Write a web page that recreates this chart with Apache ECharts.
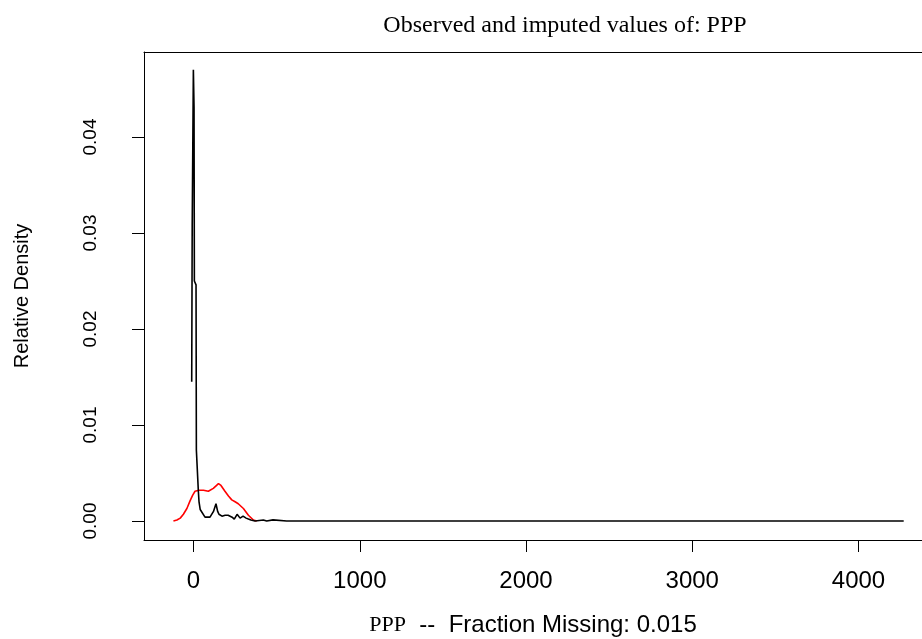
<!DOCTYPE html>
<html>
<head>
<meta charset="utf-8">
<script src="https://cdn.jsdelivr.net/npm/echarts@6/dist/echarts.min.js"></script>
<style>
  html, body { margin: 0; padding: 0; background: #fff; }
  #chart { width: 922px; height: 639px; }
</style>
</head>
<body>
<div id="chart"></div>
<script>
// ---- data ----
const titleText = 'Observed and imputed values of: PPP';
const xLabelVar = 'PPP';
const xLabelRest = 'Fraction Missing: 0.015';
const yLabel = 'Relative Density';
const xTicks = [0, 1000, 2000, 3000, 4000];
const yTicks = [0, 0.01, 0.02, 0.03, 0.04];

// observed density (black): [x, density]
const observedX = [-11, -8, -1, 3, 5, 15, 17, 27, 29, 33, 40, 69, 99, 120, 135, 145, 153, 171, 190, 208, 220, 232, 245, 262, 280, 290, 298, 316, 330, 345, 370, 420, 440, 478, 490, 560, 568, 578, 4272];
const observedY = [0.0145, 0.0308, 0.0470, 0.0431, 0.0250, 0.0246, 0.0074, 0.0072, 0.0031, 0.0020, 0.0012, 0.0004, 0.0004, 0.0010, 0.0018, 0.0010, 0.0007, 0.0005, 0.0006, 0.0006, 0.0004, 0.0004, 0.0002, 0.0007, 0.0003, 0.0005, 0.0005, 0.0003, 0.0002, 0.0001, 0.0000, 0.0001, 0.0000, 0.00012, 0.0000, 0.0000, 0.00012, 0.0000, 0.0000];

// imputed density (red): [x, density]
const imputedX = [-121, -100, -80, -61, -40, -21, -5, 9, 33, 60, 89, 119, 150, 165, 189, 210, 230, 250, 269, 300, 330, 360, 380];
const imputedY = [0.0000, 0.0001, 0.0003, 0.0007, 0.0013, 0.0021, 0.0027, 0.0031, 0.0032, 0.0032, 0.0031, 0.0034, 0.0039, 0.0037, 0.0031, 0.0026, 0.0022, 0.0020, 0.0018, 0.0013, 0.0006, 0.0001, 0.0000];

const pair = (xs, ys) => xs.map((x, i) => [x, ys[i]]);

const chart = echarts.init(document.getElementById('chart'), null, { renderer: 'canvas' });
const sans = 'Liberation Sans, Arial, sans-serif';
const serif = 'Liberation Serif, Times New Roman, serif';
const xMin = -298, xMax = 4382;

chart.setOption({
  animation: false,
  backgroundColor: '#ffffff',
  title: {
    text: titleText,
    left: 560,
    textAlign: 'center',
    top: 9,
    textStyle: { fontFamily: serif, fontSize: 24, fontWeight: 'normal', color: '#000' }
  },
  grid: {
    left: 144, top: 52, right: 0, height: 488,
    show: false,
    containLabel: false,
    outerBoundsMode: 'none'
  },
  xAxis: [{
    type: 'value',
    min: xMin, max: xMax,
    splitLine: { show: false },
    axisLine: { show: true, onZero: false, lineStyle: { color: '#000', width: 1 } },
    axisTick: { show: true, length: 12, customValues: xTicks, lineStyle: { color: '#000', width: 1 } },
    axisLabel: { customValues: xTicks, margin: 29, fontFamily: sans, fontSize: 24, color: '#000',
                 formatter: v => String(v) },
    name: '{v|' + xLabelVar + '}{r|  --  ' + xLabelRest + '}',
    nameLocation: 'middle',
    nameGap: 73,
    nameTextStyle: {
      rich: {
        v: { fontFamily: serif, fontSize: 22, color: '#000' },
        r: { fontFamily: sans, fontSize: 24, color: '#000' }
      }
    }
  }, {
    type: 'value',
    position: 'top',
    min: xMin, max: xMax,
    splitLine: { show: false },
    axisLine: { show: true, onZero: false, lineStyle: { color: '#000', width: 1 } },
    axisTick: { show: false },
    axisLabel: { show: false }
  }],
  yAxis: {
    type: 'value',
    min: -0.001979, max: 0.048854,
    splitLine: { show: false },
    axisLine: { show: true, onZero: false, lineStyle: { color: '#000', width: 1 } },
    axisTick: { show: true, length: 12, customValues: yTicks, lineStyle: { color: '#000', width: 1 } },
    axisLabel: { customValues: yTicks, rotate: 90, margin: 44, fontFamily: sans, fontSize: 19, color: '#000',
                 formatter: v => v.toFixed(2) },
    name: yLabel,
    nameLocation: 'middle',
    nameRotate: 90,
    nameGap: 112,
    nameTextStyle: { fontFamily: sans, fontSize: 20, color: '#000' }
  },
  series: [
    {
      name: 'Imputed', type: 'line', data: pair(imputedX, imputedY),
      xAxisIndex: 0, showSymbol: false, smooth: false,
      lineStyle: { color: '#ff0000', width: 1.6 }, z: 2
    },
    {
      name: 'Observed', type: 'line', data: pair(observedX, observedY),
      xAxisIndex: 0, showSymbol: false, smooth: false,
      lineStyle: { color: '#000000', width: 1.6 }, z: 3
    }
  ]
});
</script>
</body>
</html>
